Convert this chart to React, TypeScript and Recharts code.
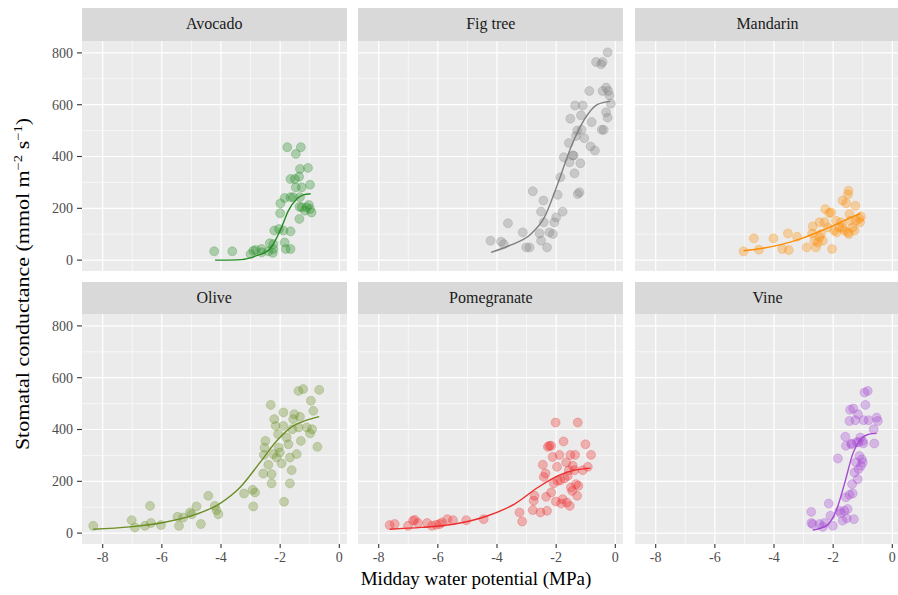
import { ComposedChart, Scatter, Line, XAxis, YAxis, CartesianGrid } from 'recharts';

// x = midday water potential (MPa), y = stomatal conductance
const avocadoPoints: [number, number][] = [
  [-4.23, 34], [-3.62, 34], [-3.0, 23], [-2.83, 39], [-2.63, 30], [-2.91, 36], [-2.63, 43],
  [-2.35, 65], [-2.4, 34], [-2.23, 43], [-2.25, 28], [-2.23, 62], [-2.2, 114], [-2.04, 120],
  [-1.89, 114], [-1.65, 111], [-2.0, 181], [-1.99, 219], [-1.85, 240], [-1.65, 243],
  [-1.85, 68], [-1.81, 43], [-1.65, 43], [-1.76, 436], [-1.3, 436], [-1.47, 410],
  [-1.33, 352], [-1.06, 356], [-1.65, 313], [-1.5, 313], [-1.36, 322], [-1.47, 281],
  [-1.27, 281], [-0.99, 291], [-1.56, 243], [-1.33, 243], [-1.35, 206], [-1.27, 204],
  [-1.1, 204], [-0.99, 197], [-0.94, 184], [-1.35, 159], [-1.16, 191], [-1.03, 213],
];
const avocadoCurve: [number, number][] = [
  [-4.2, 0], [-3.47, 1], [-2.8, 17], [-2.35, 43], [-2.0, 114], [-1.72, 191], [-1.44, 236],
  [-1.22, 252], [-0.97, 256],
];

const figPoints: [number, number][] = [
  [-4.22, 75], [-3.86, 71], [-3.77, 62], [-3.63, 142], [-3.13, 107], [-3.01, 49], [-2.9, 49],
  [-2.79, 266], [-2.56, 103], [-2.51, 75], [-2.51, 187], [-2.43, 230], [-2.42, 146],
  [-2.31, 49], [-2.23, 107], [-2.11, 101], [-2.06, 146], [-2.0, 165], [-1.95, 252],
  [-1.86, 320], [-1.78, 187], [-1.74, 397], [-1.57, 452], [-1.55, 378], [-1.52, 546],
  [-1.44, 404], [-1.38, 335], [-1.36, 597], [-1.33, 479], [-1.29, 500], [-1.27, 255],
  [-1.21, 262], [-1.18, 374], [-1.16, 559], [-1.1, 597], [-1.05, 471], [-0.88, 653],
  [-0.84, 439], [-0.8, 533], [-0.69, 423], [-0.65, 765], [-0.48, 756], [-0.43, 765],
  [-0.46, 503], [-0.39, 503], [-0.31, 571], [-0.31, 666], [-0.26, 550], [-0.24, 653],
  [-0.2, 636], [-0.15, 604], [-0.26, 802], [-0.43, 653], [-1.41, 404], [-1.14, 503],
];
const figCurve: [number, number][] = [
  [-4.2, 30], [-3.52, 59], [-2.85, 101], [-2.4, 165], [-1.95, 294], [-1.5, 436],
  [-1.05, 542], [-0.6, 601], [-0.17, 613],
];

const mandarinPoints: [number, number][] = [
  [-5.03, 34], [-4.68, 84], [-4.51, 40], [-4.02, 84], [-3.72, 43], [-3.53, 103], [-3.5, 39],
  [-3.22, 90], [-2.89, 49], [-2.71, 103], [-2.69, 130], [-2.63, 75], [-2.58, 49], [-2.52, 68],
  [-2.46, 146], [-2.41, 101], [-2.35, 75], [-2.29, 146], [-2.27, 197], [-2.18, 126],
  [-2.13, 182], [-2.07, 184], [-2.04, 43], [-1.96, 114], [-1.9, 152], [-1.79, 126],
  [-1.73, 146], [-1.68, 230], [-1.62, 114], [-1.56, 219], [-1.5, 107], [-1.48, 268],
  [-1.5, 253], [-1.47, 101], [-1.45, 178], [-1.42, 152], [-1.34, 126], [-1.28, 114],
  [-1.23, 152], [-1.25, 210], [-1.11, 159], [-1.09, 146], [-1.06, 168], [-1.68, 126],
  [-1.88, 107], [-2.46, 88],
];
const mandarinCurve: [number, number][] = [
  [-5.03, 36], [-4.38, 46], [-3.7, 62], [-3.03, 85], [-2.35, 116], [-1.68, 150], [-1.08, 181],
];

const olivePoints: [number, number][] = [
  [-8.32, 28], [-7.02, 50], [-6.91, 22], [-6.57, 28], [-6.4, 105], [-6.37, 39], [-6.03, 31],
  [-5.47, 63], [-5.42, 28], [-5.28, 60], [-5.05, 80], [-4.99, 73], [-4.83, 103], [-4.68, 35],
  [-4.43, 144], [-4.21, 105], [-4.15, 89], [-4.09, 73], [-3.22, 153], [-2.93, 167],
  [-2.91, 103], [-2.85, 157], [-2.57, 230], [-2.55, 302], [-2.53, 330], [-2.5, 356],
  [-2.4, 264], [-2.32, 495], [-2.29, 228], [-2.29, 192], [-2.23, 305], [-2.2, 440],
  [-2.15, 414], [-2.12, 292], [-2.07, 382], [-2.05, 330], [-2.01, 311], [-1.95, 269],
  [-1.89, 466], [-1.89, 414], [-1.87, 121], [-1.78, 369], [-1.72, 343], [-1.67, 292],
  [-1.67, 192], [-1.61, 243], [-1.59, 401], [-1.56, 440], [-1.52, 459], [-1.44, 305],
  [-1.38, 408], [-1.38, 549], [-1.33, 449], [-1.3, 356], [-1.22, 556], [-1.1, 408],
  [-0.99, 385], [-0.96, 511], [-0.92, 401], [-0.88, 472], [-0.74, 333], [-0.68, 553],
];
const oliveCurve: [number, number][] = [
  [-8.32, 15], [-7.08, 24], [-5.95, 41], [-4.83, 73], [-4.04, 114], [-3.36, 176],
  [-2.68, 273], [-2.12, 356], [-1.56, 414], [-1.1, 436], [-0.68, 450],
];

const pomegranatePoints: [number, number][] = [
  [-7.63, 31], [-7.46, 35], [-7.01, 28], [-6.84, 48], [-6.78, 51], [-6.67, 39], [-6.36, 39],
  [-6.2, 28], [-6.05, 32], [-5.94, 35], [-5.86, 41], [-5.68, 54], [-5.49, 50], [-5.04, 50],
  [-4.45, 54], [-3.24, 80], [-3.15, 45], [-2.79, 89], [-2.76, 125], [-2.73, 144], [-2.53, 80],
  [-2.45, 264], [-2.42, 217], [-2.36, 230], [-2.34, 140], [-2.31, 86], [-2.28, 333],
  [-2.23, 337], [-2.17, 337], [-2.17, 157], [-2.12, 294], [-2.08, 192], [-2.02, 427],
  [-2.01, 122], [-1.97, 256], [-1.95, 202], [-1.89, 302], [-1.86, 204], [-1.83, 114],
  [-1.78, 131], [-1.75, 354], [-1.72, 212], [-1.66, 273], [-1.64, 118], [-1.61, 221],
  [-1.57, 243], [-1.54, 105], [-1.52, 302], [-1.5, 176], [-1.46, 163], [-1.44, 260],
  [-1.38, 243], [-1.36, 302], [-1.33, 189], [-1.29, 144], [-1.27, 427], [-1.25, 183],
  [-1.01, 343], [-0.93, 256], [-0.82, 302], [-1.1, 243],
];
const pomegranateCurve: [number, number][] = [
  [-7.63, 15], [-6.56, 22], [-5.43, 35], [-4.31, 67], [-3.41, 112], [-2.62, 176],
  [-1.95, 221], [-1.38, 243], [-0.84, 251],
];

const vinePoints: [number, number][] = [
  [-2.74, 82], [-2.74, 39], [-2.69, 35], [-2.46, 35], [-2.35, 24], [-2.29, 39], [-2.15, 114],
  [-2.09, 67], [-2.01, 28], [-1.84, 288], [-1.79, 86], [-1.75, 77], [-1.68, 48], [-1.62, 86],
  [-1.59, 372], [-1.57, 337], [-1.54, 57], [-1.51, 93], [-1.45, 148], [-1.45, 433],
  [-1.43, 476], [-1.39, 343], [-1.37, 346], [-1.36, 189], [-1.34, 153], [-1.32, 481],
  [-1.3, 54], [-1.28, 234], [-1.25, 436], [-1.23, 273], [-1.2, 351], [-1.17, 208],
  [-1.16, 459], [-1.14, 247], [-1.11, 298], [-1.08, 369], [-1.06, 260], [-1.03, 285],
  [-1.0, 273], [-0.98, 346], [-0.97, 436], [-0.91, 495], [-0.94, 543], [-0.83, 549],
  [-0.8, 436], [-0.63, 401], [-0.61, 346], [-0.53, 446], [-0.49, 433], [-1.57, 138],
  [-1.14, 351], [-1.0, 356],
];
const vineCurve: [number, number][] = [
  [-2.69, 12], [-2.24, 28], [-1.9, 86], [-1.62, 189], [-1.34, 305], [-1.06, 363],
  [-0.78, 382], [-0.53, 385],
];

const speciesNames = ['Avocado', 'Fig tree', 'Mandarin', 'Olive', 'Pomegranate', 'Vine'];
const speciesColors = ['#228B22', '#7F7F7F', '#FF8C00', '#6B8E23', '#EE2C2C', '#A646D2'];
const speciesPoints = [avocadoPoints, figPoints, mandarinPoints, olivePoints, pomegranatePoints, vinePoints];
const speciesCurves = [avocadoCurve, figCurve, mandarinCurve, oliveCurve, pomegranateCurve, vineCurve];

const xMajor = [-8, -6, -4, -2, 0];
const xMinor = [-7, -5, -3, -1];
const yMajor = [0, 200, 400, 600, 800];
const yMinor = [100, 300, 500, 700];

const FONT = '"Liberation Serif", "Times New Roman", serif';
const PANEL_W = 265;
const PANEL_H = 230;
const COL_X = [81.7, 358.3, 635];
const ROW_Y = [40.7, 314];
const STRIP_H = 32.4;
const Y_AXIS_W = 60;
const X_AXIS_H = 40;

const toXY = (arr: [number, number][]) => arr.map(([x, y]) => ({ x, y }));

function Panel({ idx }: { idx: number }) {
  const col = idx % 3;
  const row = Math.floor(idx / 3);
  const color = speciesColors[idx];
  const showY = col === 0;
  const showX = row === 1;
  const w = PANEL_W + (showY ? Y_AXIS_W : 0);
  const h = PANEL_H + (showX ? X_AXIS_H : 0);
  const left = COL_X[col] - (showY ? Y_AXIS_W : 0);
  const top = ROW_Y[row];

  return (
    <>
      <div
        style={{
          position: 'absolute',
          left: COL_X[col],
          top: top - STRIP_H,
          width: PANEL_W,
          height: STRIP_H,
          background: '#D9D9D9',
          color: '#1A1A1A',
          fontSize: 16,
          lineHeight: `${STRIP_H}px`,
          textAlign: 'center',
        }}
      >
        {speciesNames[idx]}
      </div>
      <div
        style={{
          position: 'absolute',
          left: COL_X[col],
          top,
          width: PANEL_W,
          height: PANEL_H,
          background: '#EBEBEB',
        }}
      />
      <div style={{ position: 'absolute', left, top }}>
        <ComposedChart width={w} height={h} margin={{ top: 0, right: 0, bottom: 0, left: 0 }}>
          <CartesianGrid
            stroke="#FFFFFF"
            strokeWidth={0.6}
            verticalValues={xMinor}
            horizontalValues={yMinor}
          />
          <CartesianGrid
            stroke="#FFFFFF"
            strokeWidth={1.2}
            verticalValues={xMajor}
            horizontalValues={yMajor}
          />
          <XAxis
            type="number"
            dataKey="x"
            domain={[-8.7, 0.26]}
            ticks={xMajor}
            interval={0}
            allowDataOverflow
            hide={!showX}
            height={X_AXIS_H}
            axisLine={false}
            tickSize={4}
            tickMargin={4}
            tickLine={{ stroke: '#333333', strokeWidth: 1.1 }}
            tick={{ fill: '#4D4D4D', fontSize: 14, fontFamily: FONT }}
          />
          <YAxis
            type="number"
            dataKey="y"
            domain={[-42, 846]}
            ticks={yMajor}
            interval={0}
            allowDataOverflow
            hide={!showY}
            width={Y_AXIS_W}
            axisLine={false}
            tickSize={5}
            tickMargin={4}
            tickLine={{ stroke: '#333333', strokeWidth: 1.1 }}
            tick={{ fill: '#4D4D4D', fontSize: 14, fontFamily: FONT }}
          />
          <Scatter
            data={toXY(speciesPoints[idx])}
            isAnimationActive={false}
            shape={(p: any) => (
              <circle
                cx={p.cx}
                cy={p.cy}
                r={4.5}
                fill={color}
                fillOpacity={0.32}
                stroke={color}
                strokeOpacity={0.25}
                strokeWidth={1}
              />
            )}
          />
          <Line
            data={toXY(speciesCurves[idx])}
            dataKey="y"
            type="monotone"
            stroke={color}
            strokeWidth={1.4}
            dot={false}
            activeDot={false}
            isAnimationActive={false}
          />
        </ComposedChart>
      </div>
    </>
  );
}

export default function App() {
  return (
    <div
      style={{
        position: 'absolute',
        left: 0,
        top: 0,
        width: 898,
        height: 595,
        background: '#FFFFFF',
        fontFamily: FONT,
        overflow: 'hidden',
      }}
    >
      {speciesNames.map((_, i) => (
        <Panel key={i} idx={i} />
      ))}
      <svg style={{ position: 'absolute', left: 0, top: 0 }} width={40} height={595}>
        <text
          x={0}
          y={0}
          transform="translate(29, 284) rotate(-90) scale(1.22, 1)"
          textAnchor="middle"
          fontSize={18}
          fontFamily={FONT}
          fill="#000000"
        >
          Stomatal conductance (mmol m
          <tspan dy={-7} fontSize={12}>−2</tspan>
          <tspan dy={7}> s</tspan>
          <tspan dy={-7} fontSize={12}>−1</tspan>
          <tspan dy={7}>)</tspan>
        </text>
      </svg>
      <div
        style={{
          position: 'absolute',
          left: 276,
          top: 567,
          width: 400,
          textAlign: 'center',
          fontSize: 19,
          lineHeight: '24px',
          color: '#000000',
        }}
      >
        Midday water potential (MPa)
      </div>
    </div>
  );
}
